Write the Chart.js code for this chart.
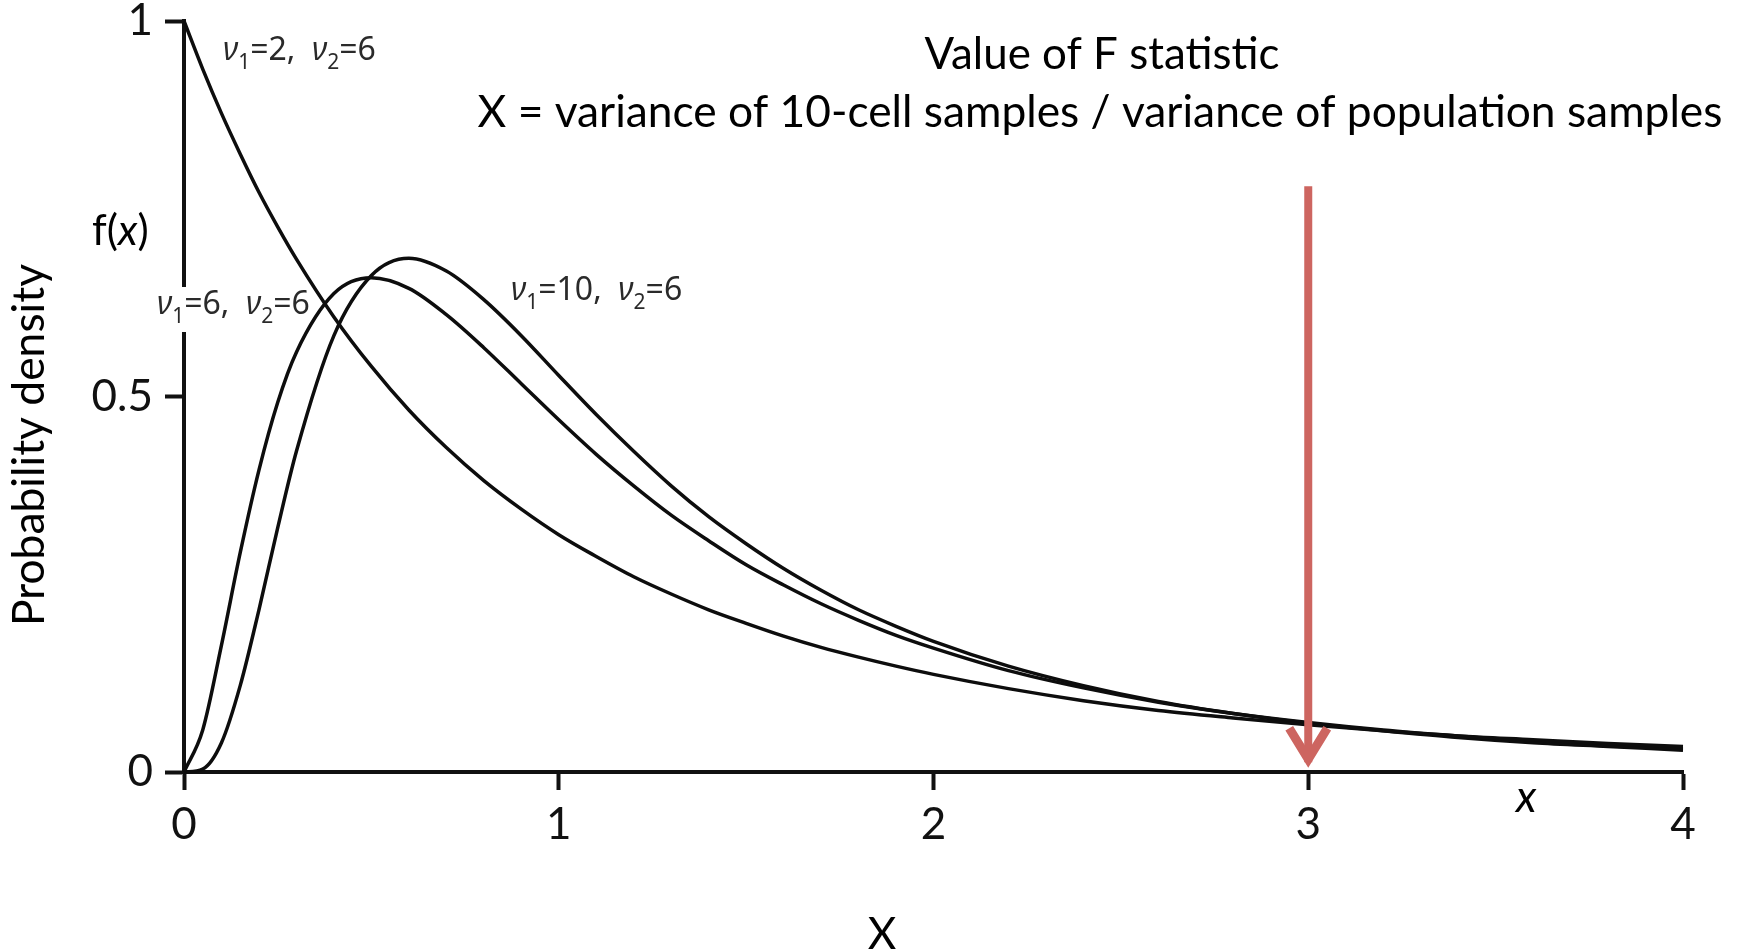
<!DOCTYPE html>
<html>
<head>
<meta charset="utf-8">
<title>F distribution</title>
<script src="https://cdn.jsdelivr.net/npm/chart.js@4.4.0/dist/chart.umd.min.js"></script>
<style>
  html, body { margin: 0; padding: 0; background: #fff; }
</style>
</head>
<body>
<canvas id="fChart" width="1748" height="951"></canvas>
<script>
// values
const xValues = [0, 0.05, 0.1, 0.15, 0.2, 0.25, 0.3, 0.4, 0.5, 0.6, 0.7, 0.8, 0.9, 1.0,
  1.1, 1.2, 1.3, 1.4, 1.5, 1.6, 1.7, 1.8, 1.9, 2.0, 2.2, 2.4, 2.6, 2.8, 3.0, 3.2, 3.4, 3.6, 3.8, 4.0];
// nu1=2, nu2=6
const densityA = [1, 0.936, 0.877, 0.823, 0.772, 0.726, 0.683, 0.606, 0.540, 0.482, 0.432, 0.388, 0.350, 0.316,
  0.287, 0.260, 0.237, 0.216, 0.198, 0.181, 0.166, 0.153, 0.141, 0.130, 0.111, 0.095, 0.082, 0.072, 0.063, 0.055, 0.048, 0.043, 0.038, 0.034];
// nu1=6, nu2=6
const densityB = [0, 0.056, 0.169, 0.292, 0.402, 0.492, 0.559, 0.637, 0.658, 0.644, 0.609, 0.565, 0.517, 0.469,
  0.423, 0.381, 0.342, 0.308, 0.276, 0.249, 0.224, 0.202, 0.182, 0.165, 0.135, 0.112, 0.093, 0.078, 0.066, 0.056, 0.048, 0.041, 0.035, 0.031];
// nu1=10, nu2=6
const densityC = [0, 0.004, 0.039, 0.115, 0.216, 0.325, 0.427, 0.581, 0.661, 0.684, 0.667, 0.629, 0.581, 0.528,
  0.476, 0.427, 0.381, 0.340, 0.304, 0.271, 0.242, 0.216, 0.194, 0.174, 0.141, 0.115, 0.094, 0.078, 0.065, 0.055, 0.046, 0.039, 0.034, 0.029];

const xTicks = [0, 1, 2, 3, 4];
const yTicks = [0, 0.5, 1];

// red arrow marking the observed F value
const arrowX = [3, 3];
const arrowY = [0.78, 0.013];

const titleLines = ['Value of F statistic', 'X = variance of 10-cell samples / variance of population samples'];
const xTitle = 'X';
const yTitle = 'Probability density';

function toPoints(ys) {
  return xValues.map((x, i) => ({ x: x, y: ys[i] }));
}

function curve(ys) {
  return {
    data: toPoints(ys),
    borderColor: '#0d0d0d',
    borderWidth: 3.5,
    pointRadius: 0,
    cubicInterpolationMode: 'monotone',
    clip: 8,
    order: 1
  };
}

// nu label with subscripts, e.g. nu1=2, nu2=6
function nuLabel(ctx, x, y, a, b) {
  const main = '32px "Noto Sans"', ital = 'italic 32px "Noto Sans"', sub = '21px "Noto Sans"';
  const parts = [[ital, 'ν', 0], [sub, '1', 9], [main, '=' + a + ',  ', 0], [ital, 'ν', 0], [sub, '2', 9], [main, '=' + b, 0]];
  ctx.textAlign = 'left';
  ctx.textBaseline = 'alphabetic';
  ctx.fillStyle = '#2a2a2a';
  parts.forEach(p => {
    ctx.font = p[0];
    ctx.fillText(p[1], x, y + p[2]);
    x += ctx.measureText(p[1]).width;
  });
}

// text whose font size is picked to fill a given width
function fitText(ctx, text, cx, y, width, family) {
  ctx.font = '40px ' + family;
  const size = 40 * width / ctx.measureText(text).width;
  ctx.font = size.toFixed(1) + 'px ' + family;
  ctx.fillText(text, cx, y);
}

const decorations = {
  id: 'decorations',
  beforeDatasetsDraw(chart) {
    const ctx = chart.ctx;
    ctx.save();
    // label box for the middle curve covers the axis
    ctx.fillStyle = '#fff';
    ctx.fillRect(152, 287, 160, 45);
    nuLabel(ctx, 223, 60, '2', '6');
    nuLabel(ctx, 157, 314, '6', '6');
    nuLabel(ctx, 511, 300, '10', '6');
    ctx.restore();
  },
  afterDatasetsDraw(chart) {
    const ctx = chart.ctx;
    const xs = chart.scales.x, ys = chart.scales.y;
    ctx.save();

    // arrow head
    const tx = xs.getPixelForValue(arrowX[1]);
    const ty = ys.getPixelForValue(arrowY[1]);
    ctx.strokeStyle = '#cd6560';
    ctx.lineWidth = 9;
    ctx.lineJoin = 'miter';
    ctx.lineCap = 'butt';
    ctx.beginPath();
    ctx.moveTo(tx - 19, ty - 34);
    ctx.lineTo(tx, ty - 3);
    ctx.lineTo(tx + 19, ty - 34);
    ctx.stroke();

    ctx.fillStyle = '#000';
    ctx.textBaseline = 'alphabetic';

    // f(x) on the axis
    ctx.textAlign = 'left';
    let px = 92;
    [['42px Lato', 'f('], ['italic 42px Lato', 'x'], ['42px Lato', ')']].forEach(p => {
      ctx.font = p[0];
      ctx.fillText(p[1], px, 245);
      px += ctx.measureText(p[1]).width;
    });
    // x at the end of the axis
    ctx.font = 'italic 44px Lato';
    ctx.fillText('x', 1516, 812);

    // titles
    ctx.textAlign = 'center';
    fitText(ctx, titleLines[0], 1102, 69, 355, 'Lato');
    fitText(ctx, titleLines[1], 1100, 127, 1245, 'Lato');

    // axis titles
    ctx.font = '44px Lato';
    ctx.fillText(xTitle, 882, 949);
    ctx.save();
    ctx.translate(44, 445);
    ctx.rotate(-Math.PI / 2);
    fitText(ctx, yTitle, 0, 0, 362, 'Lato');
    ctx.restore();

    ctx.restore();
  }
};

const ctx = document.getElementById('fChart').getContext('2d');

new Chart(ctx, {
  type: 'line',
  data: {
    datasets: [
      {
        data: arrowX.map((x, i) => ({ x: x, y: arrowY[i] })),
        borderColor: '#cd6560',
        borderWidth: 8,
        pointRadius: 0,
        borderCapStyle: 'butt',
        clip: false,
        order: 0
      },
      curve(densityA),
      curve(densityB),
      curve(densityC)
    ]
  },
  options: {
    responsive: false,
    animation: false,
    layout: { padding: { top: 21, right: 65, bottom: 0, left: 0 } },
    plugins: {
      legend: { display: false },
      tooltip: { enabled: false }
    },
    scales: {
      x: {
        type: 'linear',
        min: 0,
        max: 4,
        afterBuildTicks: s => { s.ticks = xTicks.map(v => ({ value: v })); },
        afterFit: s => { s.height = 179; },
        ticks: {
          color: '#111',
          padding: 8,
          maxRotation: 0,
          font: { family: 'Lato', size: 44 }
        },
        grid: {
          drawOnChartArea: false,
          drawTicks: true,
          tickLength: 18,
          tickWidth: 4,
          tickColor: '#111'
        },
        border: { display: true, color: '#111', width: 4 }
      },
      y: {
        min: 0,
        max: 1,
        afterBuildTicks: s => { s.ticks = yTicks.map(v => ({ value: v })); },
        afterFit: s => {
          s.width = 184;
          s.paddingTop = 0;
          s.paddingBottom = 0;
        },
        ticks: {
          color: '#111',
          padding: 12,
          font: { family: 'Lato', size: 44 },
          callback: v => String(v)
        },
        grid: {
          drawOnChartArea: false,
          drawTicks: true,
          tickLength: 19,
          tickWidth: 4,
          tickColor: '#111'
        },
        border: { display: true, color: '#111', width: 4 }
      }
    }
  },
  plugins: [decorations]
});
</script>
</body>
</html>
